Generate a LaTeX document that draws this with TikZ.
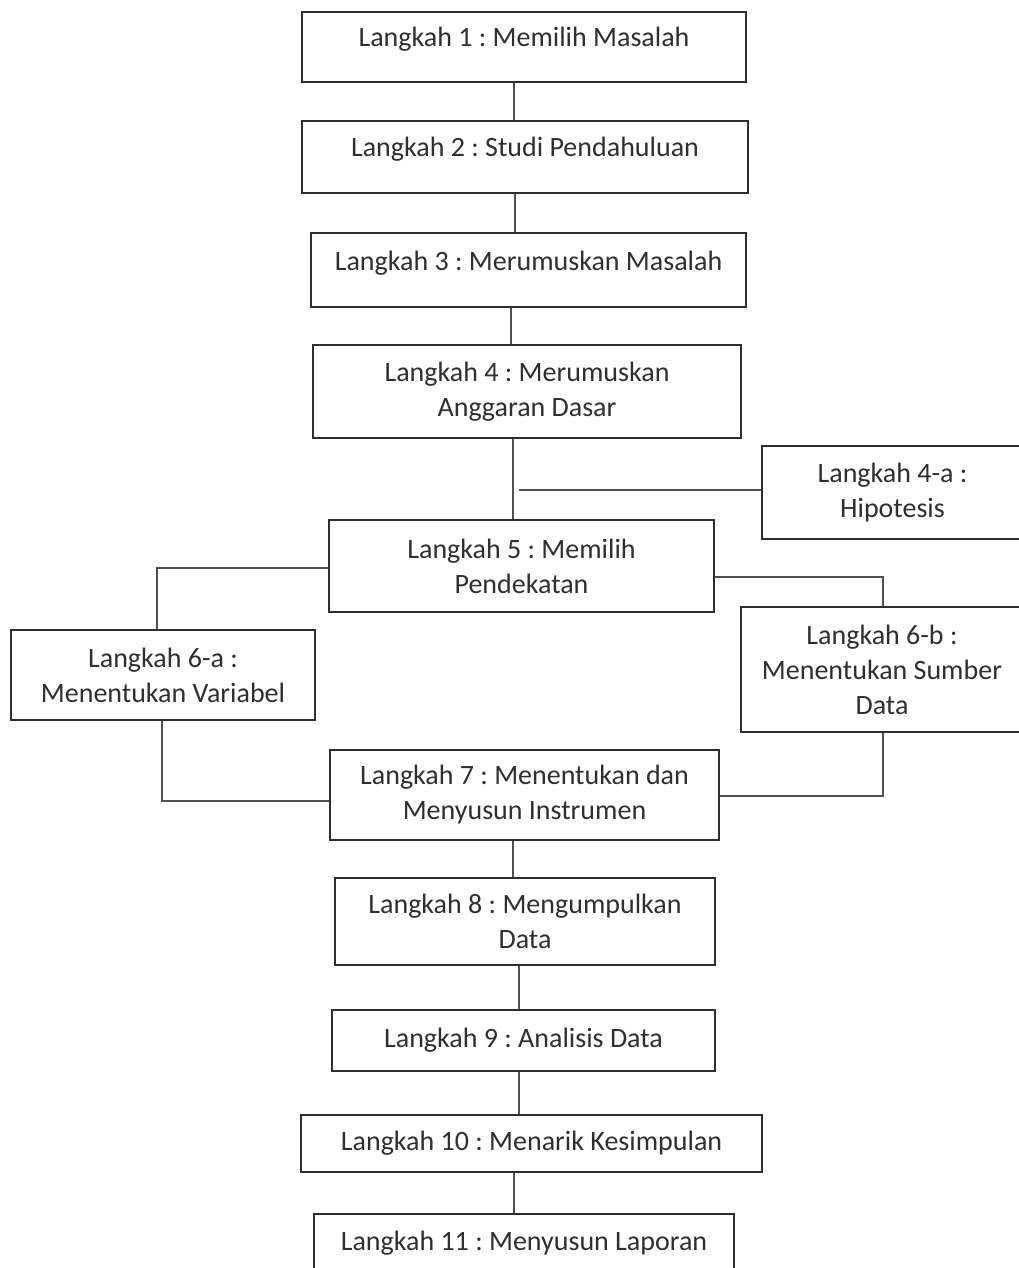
\documentclass[tikz,border=0pt]{standalone}
\usepackage{fontspec}
\setmainfont{Carlito}
\definecolor{boxc}{HTML}{2E2E2E}
\definecolor{linec}{HTML}{505050}
\definecolor{txtc}{HTML}{2F2F2F}
\begin{document}
\frenchspacing
\begin{tikzpicture}[x=1pt,y=-1pt,
  box/.style={draw=boxc, line width=2.4pt, fill=white, align=center, inner sep=0pt,
    text=txtc, font=\fontsize{28pt}{35pt}\selectfont},
  topbox/.style={box, text height=20pt, text depth=20pt},
  conn/.style={draw=linec, line width=1.8pt}]
\useasboundingbox (0,0) rectangle (1019,1268);
\clip (0,0) rectangle (1019,1268);
\fill[white] (0,0) rectangle (1019,1268);

% x positions of the vertical connectors
\coordinate (xa) at (514,0);
\coordinate (xb) at (515,0);
\coordinate (xc) at (511,0);
\coordinate (xd) at (513,0);
\coordinate (xe) at (519,0);
\coordinate (xl) at (157,0);
\coordinate (xl2) at (162,0);
\coordinate (xr) at (883,0);

% boxes
\node[topbox, minimum width=444pt, minimum height=70pt] (b1) at (524,47) {Langkah 1 : Memilih Masalah};
\node[topbox, minimum width=446pt, minimum height=72pt] (b2) at (525,157) {Langkah 2 : Studi Pendahuluan};
\node[topbox, minimum width=435pt, minimum height=74pt] (b3) at (528.5,270) {Langkah 3 : Merumuskan Masalah};
\node[box, minimum width=428pt, minimum height=93pt] (b4) at (527,391.5) {Langkah 4 : Merumuskan\\Anggaran Dasar};
\node[box, minimum width=261pt, minimum height=93pt] (b4a) at (892.5,492.5) {Langkah 4-a :\\Hipotesis};
\node[box, minimum width=385pt, minimum height=92pt] (b5) at (521.5,566) {Langkah 5 : Memilih\\Pendekatan};
\node[box, minimum width=304pt, minimum height=90pt] (b6a) at (163,675) {Langkah 6-a :\\Menentukan Variabel};
\node[box, minimum width=282pt, minimum height=125pt] (b6b) at (882,669.5) {Langkah 6-b :\\Menentukan Sumber\\Data};
\node[box, minimum width=389pt, minimum height=90pt] (b7) at (524.5,795) {Langkah 7 : Menentukan dan\\Menyusun Instrumen};
\node[box, minimum width=380pt, minimum height=87pt] (b8) at (525,921.5) {Langkah 8 : Mengumpulkan\\Data};
\node[box, minimum width=383pt, minimum height=61pt] (b9) at (523.5,1040.5) {Langkah 9 : Analisis Data};
\node[box, minimum width=461pt, minimum height=57pt] (b10) at (531.5,1143.5) {Langkah 10 : Menarik Kesimpulan};
\node[box, minimum width=420pt, minimum height=58pt] (b11) at (524,1243) {Langkah 11 : Menyusun Laporan};

% free end of the hypothesis branch
\coordinate (h0) at (519,490);

% connectors
\draw[conn] (xa |- b1.south) -- (xa |- b2.north);
\draw[conn] (xb |- b2.south) -- (xb |- b3.north);
\draw[conn] (xc |- b3.south) -- (xc |- b4.north);
\draw[conn] (xd |- b4.south) -- (xd |- b5.north);
\draw[conn] (h0) -- (h0 -| b4a.west);
\draw[conn] ([yshift=-2pt]b5.west) -| (xl |- b6a.north);
\draw[conn] (xl2 |- b6a.south) |- ([yshift=-6pt]b7.west);
\draw[conn] ([yshift=-11pt]b5.east) -| (xr |- b6b.north);
\draw[conn] (xr |- b6b.south) |- ([yshift=-1pt]b7.east);
\draw[conn] (xd |- b7.south) -- (xd |- b8.north);
\draw[conn] (xe |- b8.south) -- (xe |- b9.north);
\draw[conn] (xe |- b9.south) -- (xe |- b10.north);
\draw[conn] (xa |- b10.south) -- (xa |- b11.north);
\end{tikzpicture}
\end{document}
